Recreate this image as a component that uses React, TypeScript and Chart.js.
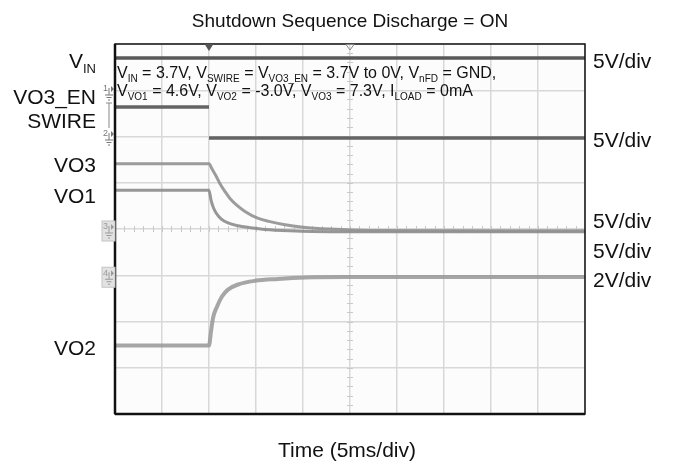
import React, { useEffect, useRef } from "react";
import { Chart, registerables } from "chart.js";

Chart.register(...registerables);

const FONT = "'Liberation Sans', Arial, Helvetica, sans-serif";

// Time axis in ms (5 ms/div, 10 div), vertical values in screen divisions (0..8)
const vinT = [0, 50];
const vinY = [7.7, 7.7];

const swireT = [0, 10, 10, 10, 50];
const swireY: (number | null)[] = [6.64, 6.64, null, 5.97, 5.97];

const vo3T = [0, 10.0, 10.32, 10.74, 11.17, 11.7, 12.23, 12.98, 13.83, 15.11, 16.49, 18.09, 20.0, 22.87, 27.13, 50];
const vo3Y = [5.41, 5.41, 5.30, 5.15, 4.98, 4.81, 4.66, 4.51, 4.38, 4.24, 4.16, 4.09, 4.04, 4.0, 3.97, 3.96];

const vo1T = [0, 10.0, 10.21, 10.43, 10.74, 11.28, 12.02, 13.09, 14.36, 15.96, 18.62, 22.87, 50];
const vo1Y = [4.84, 4.84, 4.63, 4.48, 4.35, 4.22, 4.13, 4.07, 4.03, 3.99, 3.96, 3.94, 3.94];

const vo2T = [0, 10.0, 10.21, 10.43, 10.85, 11.38, 12.02, 13.09, 14.89, 17.34, 20.21, 24.47, 50];
const vo2Y = [1.48, 1.48, 1.78, 2.08, 2.32, 2.54, 2.69, 2.8, 2.88, 2.92, 2.95, 2.96, 2.96];

const titleText = "Shutdown Sequence Discharge = ON";
const xAxisText = "Time (5ms/div)";

// left channel names: [main, subscript]
const leftLabels: [string, string][] = [
  ["V", "IN"],
  ["VO3_EN", ""],
  ["SWIRE", ""],
  ["VO3", ""],
  ["VO1", ""],
  ["VO2", ""],
];
const leftLabelBase = [68, 104, 128, 172, 203, 355];

const scaleLabels = ["5V/div", "5V/div", "5V/div", "5V/div", "2V/div"];
const scaleLabelBase = [68, 147, 228, 258, 287];

type Part = [string, boolean];
const noteLine1: Part[] = [
  ["V", false], ["IN", true], [" = 3.7V, V", false], ["SWIRE", true], [" = V", false], ["VO3_EN", true],
  [" = 3.7V to 0V, V", false], ["nFD", true], [" = GND,", false],
];
const noteLine2: Part[] = [
  ["V", false], ["VO1", true], [" = 4.6V, V", false], ["VO2", true], [" = -3.0V, V", false], ["VO3", true],
  [" = 7.3V, I", false], ["LOAD", true], [" = 0mA", false],
];

const pts = (t: number[], y: (number | null)[]) => t.map((x, i) => ({ x, y: y[i] }));

function drawRich(ctx: CanvasRenderingContext2D, parts: Part[], x: number, y: number, size: number, subSize: number, align: "left" | "right") {
  const main = `${size}px ${FONT}`;
  const sub = `${subSize}px ${FONT}`;
  let w = 0;
  for (const [t, s] of parts) {
    ctx.font = s ? sub : main;
    w += ctx.measureText(t).width;
  }
  let cx = align === "left" ? x : x - w;
  ctx.textAlign = "left";
  ctx.textBaseline = "alphabetic";
  for (const [t, s] of parts) {
    ctx.font = s ? sub : main;
    ctx.fillText(t, cx, s ? y + Math.round(size * 0.22) : y);
    cx += ctx.measureText(t).width;
  }
}

function channelMarker(ctx: CanvasRenderingContext2D, label: string, x: number, y: number, boxed: boolean) {
  ctx.save();
  if (boxed) {
    ctx.fillStyle = "#e2e2e2";
    ctx.strokeStyle = "#c4c4c4";
    ctx.lineWidth = 1;
    ctx.fillRect(x - 1, y - 8, 13, 20);
    ctx.strokeRect(x - 1, y - 8, 13, 20);
  }
  ctx.fillStyle = boxed ? "#9a9a9a" : "#777";
  ctx.strokeStyle = boxed ? "#9a9a9a" : "#777";
  ctx.font = `9px ${FONT}`;
  ctx.textAlign = "left";
  ctx.textBaseline = "middle";
  ctx.fillText(label, x, y - 2);
  ctx.lineWidth = 1;
  ctx.beginPath();
  ctx.moveTo(x + 6, y - 3); ctx.lineTo(x + 6, y + 4);
  ctx.moveTo(x + 2, y + 4); ctx.lineTo(x + 10, y + 4);
  ctx.moveTo(x + 3.5, y + 6.5); ctx.lineTo(x + 8.5, y + 6.5);
  ctx.moveTo(x + 5, y + 9); ctx.lineTo(x + 7, y + 9);
  ctx.stroke();
  ctx.beginPath();
  ctx.moveTo(x + 8, y - 5); ctx.lineTo(x + 11, y - 2); ctx.lineTo(x + 8, y + 1);
  ctx.closePath();
  ctx.fill();
  ctx.restore();
}

const scopePlugin = {
  id: "scopeDecor",
  beforeDraw(chart: any) {
    const { ctx, chartArea: a } = chart;
    ctx.save();
    ctx.fillStyle = "#ffffff";
    ctx.fillRect(0, 0, chart.width, chart.height);
    ctx.fillStyle = "#fcfcfc";
    ctx.fillRect(a.left, a.top, a.right - a.left, a.bottom - a.top);
    ctx.restore();
  },
  beforeDatasetsDraw(chart: any) {
    const { ctx, scales } = chart;
    const xs = scales.x, ys = scales.y;
    const cx = xs.getPixelForValue(25), cy = ys.getPixelForValue(4);
    ctx.save();
    ctx.strokeStyle = "#c9c9c9";
    ctx.lineWidth = 1;
    ctx.beginPath();
    for (let v = 1; v < 50; v += 1) {
      const px = Math.round(xs.getPixelForValue(v)) + 0.5;
      ctx.moveTo(px, cy - 3); ctx.lineTo(px, cy + 3);
    }
    for (let i = 1; i < 40; i++) {
      const py = Math.round(ys.getPixelForValue(i * 0.2)) + 0.5;
      ctx.moveTo(cx - 3, py); ctx.lineTo(cx + 3, py);
    }
    ctx.stroke();
    ctx.restore();
  },
  afterDatasetsDraw(chart: any) {
    const { ctx, chartArea: a, scales } = chart;
    ctx.save();
    ctx.strokeStyle = "#111";
    ctx.lineWidth = 1.5;
    ctx.strokeRect(a.left, a.top, a.right - a.left, a.bottom - a.top);
    ctx.lineWidth = 2.5;
    ctx.beginPath();
    ctx.moveTo(a.left, a.top); ctx.lineTo(a.left, a.bottom);
    ctx.moveTo(a.left, a.bottom); ctx.lineTo(a.right, a.bottom);
    ctx.stroke();
    // trigger markers
    const tx = scales.x.getPixelForValue(10);
    ctx.fillStyle = "#555";
    ctx.beginPath();
    ctx.moveTo(tx - 4.5, a.top); ctx.lineTo(tx + 4.5, a.top); ctx.lineTo(tx, a.top + 7); ctx.closePath();
    ctx.fill();
    const ox = scales.x.getPixelForValue(25);
    ctx.strokeStyle = "#888";
    ctx.lineWidth = 1;
    ctx.beginPath();
    ctx.moveTo(ox - 4, a.top + 0.5); ctx.lineTo(ox + 4, a.top + 0.5); ctx.lineTo(ox, a.top + 6); ctx.closePath();
    ctx.stroke();
    ctx.restore();
    channelMarker(ctx, "1", a.left - 12, 91, false);
    channelMarker(ctx, "2", a.left - 12, 136, false);
    channelMarker(ctx, "3", a.left - 12, scales.y.getPixelForValue(4), true);
    channelMarker(ctx, "4", a.left - 12, scales.y.getPixelForValue(3), true);
    ctx.save();
    ctx.strokeStyle = "#888";
    ctx.lineWidth = 1;
    ctx.beginPath();
    ctx.moveTo(a.left - 6, 103); ctx.lineTo(a.left - 6, 128);
    ctx.moveTo(a.left - 9, 103); ctx.lineTo(a.left - 3, 103);
    ctx.stroke();
    ctx.restore();
  },
  afterDraw(chart: any) {
    const { ctx, chartArea: a } = chart;
    ctx.save();
    ctx.fillStyle = "#111";
    ctx.textAlign = "center";
    ctx.textBaseline = "alphabetic";
    ctx.font = `19px ${FONT}`;
    ctx.fillText(titleText, (a.left + a.right) / 2, 27);
    ctx.font = `21px ${FONT}`;
    ctx.fillText(xAxisText, 347, 457);
    leftLabels.forEach(([m, s], i) => {
      const parts: Part[] = s ? [[m, false], [s, true]] : [[m, false]];
      drawRich(ctx, parts, 96, leftLabelBase[i], 21, 13, "right");
    });
    ctx.font = `21px ${FONT}`;
    ctx.textAlign = "left";
    scaleLabels.forEach((t, i) => ctx.fillText(t, 593, scaleLabelBase[i]));
    drawRich(ctx, noteLine1, a.left + 2, 78, 16, 10, "left");
    drawRich(ctx, noteLine2, a.left + 2, 96, 16, 10, "left");
    ctx.restore();
  },
};

export default function App() {
  const ref = useRef<HTMLCanvasElement | null>(null);
  useEffect(() => {
    if (!ref.current) return;
    const line = (label: string, data: any[], color: string, width: number) => ({
      label,
      data,
      borderColor: color,
      backgroundColor: color,
      borderWidth: width,
      pointRadius: 0,
      fill: false,
      spanGaps: false,
      cubicInterpolationMode: "monotone" as const,
      borderCapStyle: "butt" as const,
    });
    const chart = new Chart(ref.current, {
      type: "line",
      data: {
        datasets: [
          line("VO2", pts(vo2T, vo2Y), "rgba(150,150,150,0.85)", 4),
          line("VO3", pts(vo3T, vo3Y), "rgba(145,145,145,0.9)", 3),
          line("VO1", pts(vo1T, vo1Y), "rgba(140,140,140,0.9)", 3),
          line("SWIRE", pts(swireT, swireY), "#646464", 3.5),
          line("VIN", pts(vinT, vinY), "#575757", 3.5),
        ],
      },
      options: {
        responsive: false,
        animation: false,
        events: [],
        layout: { padding: { left: 115, right: 88, top: 44, bottom: 50 } },
        plugins: { legend: { display: false }, tooltip: { enabled: false }, title: { display: false } },
        scales: {
          x: {
            type: "linear",
            min: 0,
            max: 50,
            ticks: { stepSize: 5, display: false },
            grid: { color: "#d8d8d8", lineWidth: 1.5, drawTicks: false },
            border: { display: false },
          },
          y: {
            type: "linear",
            min: 0,
            max: 8,
            ticks: { stepSize: 1, display: false },
            grid: { color: "#d8d8d8", lineWidth: 1.5, drawTicks: false },
            border: { display: false },
          },
        },
      },
      plugins: [scopePlugin],
    });
    return () => chart.destroy();
  }, []);
  return (
    <div style={{ position: "fixed", left: 0, top: 0, width: 673, height: 464, background: "#fff" }}>
      <canvas ref={ref} width={673} height={464} style={{ width: 673, height: 464, display: "block" }} />
    </div>
  );
}
